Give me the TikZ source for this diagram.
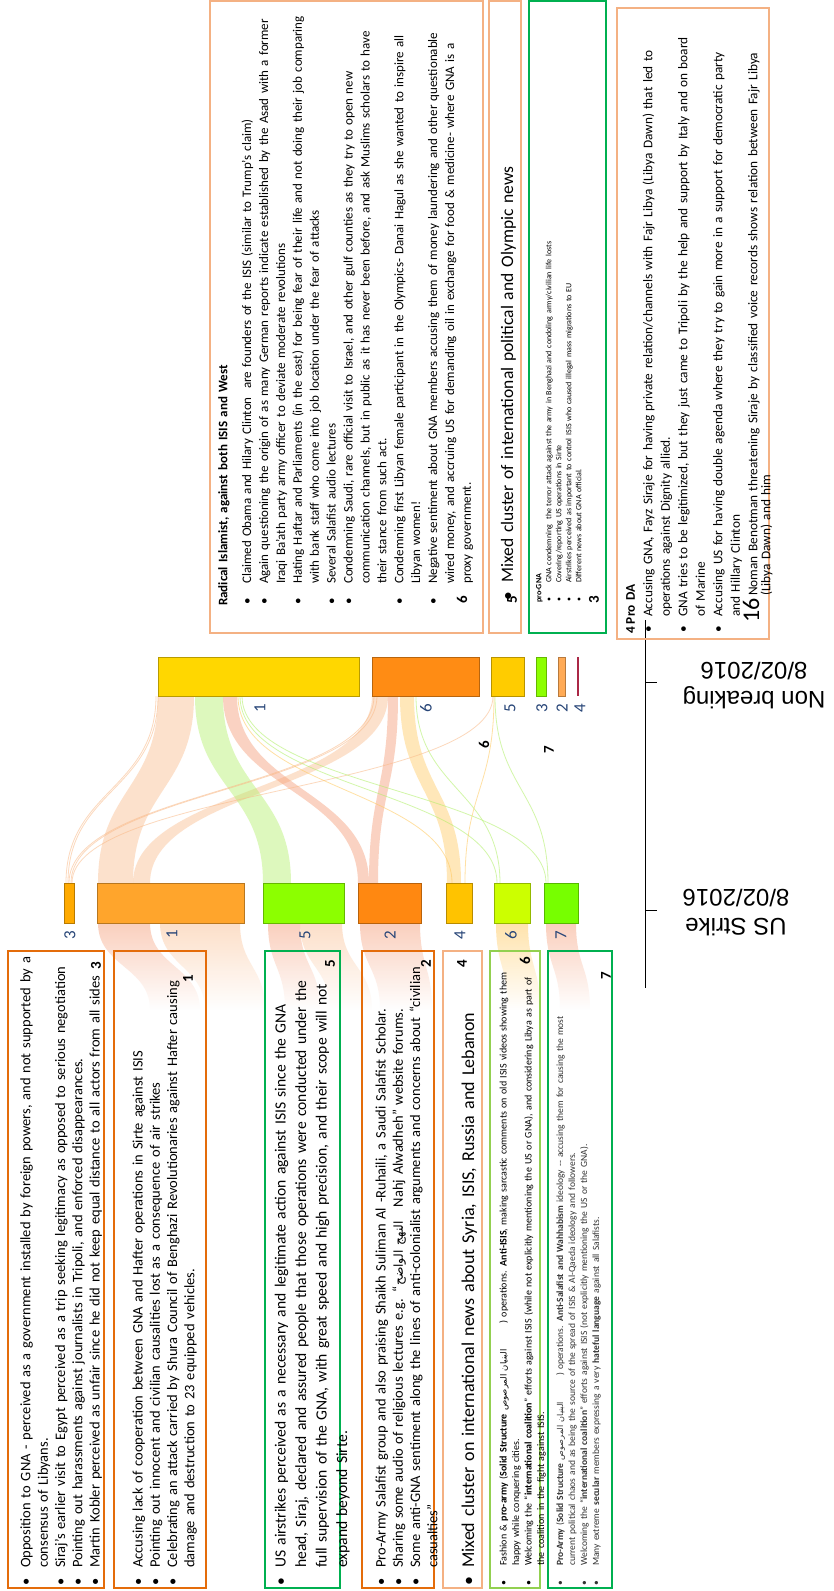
\documentclass[tikz,border=0pt]{standalone}
\usepackage{fontspec}
\setmainfont{Carlito}
\newfontfamily\arabicfont[Script=Arabic,Scale=0.85]{DejaVu Sans}
\newfontfamily\lsans{Liberation Sans}
\TeXXeTstate=1
\usetikzlibrary{fadings}
\newlength\bind
\newlength\boff
\newcommand\bi[1]{\par\hbox{\makebox[\bind][l]{\hspace*{\boff}\textbullet}#1}}
\newcommand\co[1]{\par\hbox{\hspace*{\bind}#1}}
\newcommand\ar[1]{{\arabicfont\beginR #1\endR}}
\newcommand\fs[2]{\fontsize{#1}{#2}\selectfont}
\definecolor{dorange}{RGB}{228,108,10}
\definecolor{lorange}{RGB}{244,177,131}
\definecolor{boxgreen}{RGB}{0,176,80}
\definecolor{lgreen}{RGB}{146,208,80}
\definecolor{labblue}{RGB}{40,70,120}
\definecolor{peach}{RGB}{250,185,135}
\definecolor{salmon}{RGB}{245,150,110}
\definecolor{greenb}{RGB}{175,240,100}
\definecolor{yellowb}{RGB}{255,200,90}
\definecolor{cT1}{RGB}{255,215,0}
\definecolor{cT6}{RGB}{255,140,20}
\definecolor{cT5}{RGB}{255,204,0}
\definecolor{cT3}{RGB}{140,255,0}
\definecolor{cT2}{RGB}{255,170,85}
\definecolor{cT4}{RGB}{170,40,70}
\definecolor{cB3}{RGB}{255,170,0}
\definecolor{cB1}{RGB}{255,165,44}
\definecolor{cB5}{RGB}{140,255,0}
\definecolor{cB2}{RGB}{255,136,17}
\definecolor{cB4}{RGB}{255,195,0}
\definecolor{cB6}{RGB}{204,255,0}
\definecolor{cB7}{RGB}{119,255,0}
\newcommand\sbar[6]{\node[draw=#6!72!black, fill=#6, line width=0.7pt, inner sep=0pt, anchor=north west, minimum width={(#3-#2)*1pt}, minimum height={(#5-#4)*1pt}] (#1) at (#2,#4) {};}
\newcommand\band[7]{\fill[#7] (#1,#5) .. controls (#1,{(#5+#6)/2}) and (#3,{(#5+#6)/2}) .. (#3,#6) -- (#4,#6) .. controls (#4,{(#5+#6)/2}) and (#2,{(#5+#6)/2}) .. (#2,#5) -- cycle;}
\newcommand\thinl[3]{\draw[#3, line width=0.8pt, draw opacity=0.55] (#1,696) .. controls (#1,790) and (#2,790) .. (#2,883);}
\tikzset{
  box/.style={line width=1.4pt},
  txt/.style={rotate=90, anchor=north west, inner sep=0pt, align=left, text width=650pt},
  num/.style={rotate=90, inner sep=0pt, font=\fs{15}{15}\bfseries},
  lab/.style={rotate=90, inner sep=0pt, text=labblue, font=\fs{17}{17}},
  bandop/.style={fill opacity=0.42},
  fadeband/.style={fill opacity=0.45, path fading=south},
}
\begin{document}
\begin{tikzpicture}[x=1pt,y=-1pt]
\useasboundingbox (0,0) rectangle (833,1591);
\fill[white] (0,0) rectangle (833,1591);
% ---------- flows ----------
\band{158}{194}{98}{133}{696}{883}{peach,bandop}
\band{372}{388}{133}{150}{696}{883}{peach,bandop}
\band{195}{223}{263}{291}{696}{883}{greenb,bandop}
\band{223}{237}{358}{369}{696}{883}{salmon,bandop}
\band{388}{398}{369}{378}{696}{883}{salmon,bandop}
\band{400}{414}{447}{461}{696}{883}{yellowb,bandop}
\thinl{156}{66}{peach}
\thinl{158}{68}{peach}
\thinl{374}{69}{peach}
\thinl{377}{71}{peach}
\thinl{493}{72}{peach}
\thinl{238}{452}{yellowb}
\thinl{240}{497}{greenb}
\thinl{242}{546}{greenb}
\thinl{416}{500}{greenb}
\thinl{495}{548}{greenb}
\thinl{494}{465}{yellowb}
% fading flows below the lower bars
\band{98}{150}{150}{200}{923}{1010}{salmon,fadeband}
\band{160}{240}{205}{265}{923}{1010}{peach,fadeband}
\band{268}{300}{285}{320}{923}{1010}{salmon,fadeband}
\band{300}{342}{330}{372}{923}{1010}{peach,fadeband}
\band{360}{420}{380}{432}{923}{1010}{salmon,fadeband}
\band{496}{528}{508}{540}{923}{1010}{yellowb,fill opacity=0.5,path fading=south}
\band{546}{576}{560}{590}{923}{1010}{salmon,fadeband}
% ---------- bars ----------
\sbar{T1}{158}{359}{657}{696}{cT1}
\sbar{T6}{372}{479}{657}{696}{cT6}
\sbar{T5}{491}{524}{657}{696}{cT5}
\sbar{T3}{536}{546}{657}{696}{cT3}
\sbar{T2}{558}{565}{657}{696}{cT2}
\fill[cT4] (577,657) rectangle (578.5,696);
\sbar{B3}{64}{74}{883}{923}{cB3}
\sbar{B1}{97}{244}{883}{923}{cB1}
\sbar{B5}{263}{344}{883}{923}{cB5}
\sbar{B2}{358}{421}{883}{923}{cB2}
\sbar{B4}{446}{472}{883}{923}{cB4}
\sbar{B6}{494}{530}{883}{923}{cB6}
\sbar{B7}{544}{578}{883}{923}{cB7}
% bar labels
\node[lab] (l1) at (260,708) {1};
\node[lab] (l6) at (426,708) {6};
\node[lab] (l5) at (510,708) {5};
\node[lab] (l3) at (542,708) {3};
\node[lab] (l2) at (562,708) {2};
\node[lab] (l4) at (580,708) {4};
\node[lab] (m3) at (70,935) {3};
\node[lab] (m1) at (172,934) {1};
\node[lab] (m5) at (305,935) {5};
\node[lab] (m2) at (390,935) {2};
\node[lab] (m4) at (460,935) {4};
\node[lab] (m6) at (511,935) {6};
\node[lab] (m7) at (561,935) {7};
\node[num] (x6) at (484,745) {6};
\node[num] (x7) at (549,750) {7};
% ---------- timeline ----------
\coordinate (tl0) at (645,620);
\coordinate (tl1) at (645,988);
\coordinate (tk1) at (645,682);
\coordinate (tk1e) at (657,682);
\coordinate (tk2) at (645,910);
\coordinate (tk2e) at (657,910);
\draw[line width=1pt] (tl0) -- (tl1);
\draw[line width=1pt] (tk1) -- (tk1e);
\draw[line width=1pt] (tk2) -- (tk2e);
\node[rotate=180, align=center, inner sep=0pt, font=\lsans\fs{24}{29}] (nb) at (754,686) {Non breaking\\8/02/2016};
\node[rotate=180, align=center, inner sep=0pt, font=\lsans\fs{24}{29}] (us) at (736,913) {US Strike\\8/02/2016};
% ---------- lower boxes ----------
\draw[box, dorange] (8,951) rectangle (104,1588);
\draw[box, dorange] (114,951) rectangle (206,1588);
\draw[box, boxgreen] (265,951) rectangle (340,1588);
\draw[box, dorange] (362,951) rectangle (434,1588);
\draw[box, lorange] (443,951) rectangle (482,1588);
\draw[box, lgreen] (490,951) rectangle (540,1588);
\draw[box, boxgreen] (548,951) rectangle (612,1588);
\node[txt, font=\fs{14.5}{17.3}] (t3) at (13,1588) {\setlength\bind{20pt}\setlength\boff{2pt}%
\bi{Opposition to GNA - perceived as a government installed by foreign powers, and not supported by a}
\co{consensus of Libyans.}
\bi{Siraj’s earlier visit to Egypt perceived as a trip seeking legitimacy as opposed to serious negotiation}
\bi{Pointing out harassments against journalists in Tripoli, and enforced disappearances.}
\bi{Martin Kobler perceived as unfair since he did not keep equal distance to all actors from all sides}};
\node[txt, font=\fs{14.5}{17.3}] (t1) at (125,1588) {\setlength\bind{20pt}\setlength\boff{2pt}%
\bi{Accusing lack of cooperation between GNA and Hafter operations in Sirte against ISIS}
\bi{Pointing out innocent and civilian causalities lost as a consequence of air strikes}
\bi{Celebrating an attack carried by Shura Council of Benghazi Revolutionaries against Hafter causing}
\co{damage and destruction to 23 equipped vehicles.}};
\node[txt, font=\fs{15.6}{20.5}] (t5) at (265,1588) {\setlength\bind{20pt}\setlength\boff{2pt}%
\bi{US airstrikes perceived as a necessary and legitimate action against ISIS since the GNA}
\co{head, Siraj, declared and assured people that those operations were conducted under the}
\co{full supervision of the GNA, with great speed and high precision, and their scope will not}
\co{expand beyond Sirte.}};
\node[txt, font=\fs{14.5}{17.3}] (t2) at (368,1588) {\setlength\bind{20pt}\setlength\boff{2pt}%
\bi{Pro-Army Salafist group and also praising Shaikh Suliman Al -Ruhaili, a Saudi Salafist Scholar.}
\bi{Sharing some audio of religious lectures e.g. ``\ar{النهج الواضح}\hspace{14pt}Nahj Alwadheh'' website forums.}
\bi{Some anti-GNA sentiment along the lines of anti-colonialist arguments and concerns about ``civilian}
\co{casualties''}};
\node[txt, font=\fs{18}{21}] (t4) at (453,1588) {\setlength\bind{20pt}\setlength\boff{2pt}%
\bi{Mixed cluster on international news about Syria, ISIS, Russia and Lebanon}};
\node[txt, font=\fs{10}{12.5}] (t6) at (494,1588) {\setlength\bind{22pt}\setlength\boff{2pt}%
\bi{Fashion \& \textbf{pro-army} (\textbf{Solid Structure} \ar{البنيان المرصوص}\hspace{26pt}) operations. \textbf{Anti-ISIS}, making sarcastic comments on old ISIS videos showing them}
\co{happy while conquering cities.}
\bi{Welcoming the ``\textbf{international coalition}'' efforts against ISIS (while not explicitly mentioning the US or GNA), and considering Libya as part of}
\co{the coalition in the fight against ISIS.}};
\node[txt, text=black!80, font=\fs{9.5}{12}] (t7) at (551,1588) {\setlength\bind{22pt}\setlength\boff{2pt}%
\bi{\textbf{Pro-Army} (\textbf{Solid Structure} \ar{البنيان المرصوص}\hspace{26pt}) operations. \textbf{Anti-Salafist and Wahhabism} ideology -{}- accusing them for causing the most}
\co{current political chaos and as being the source of the spread of ISIS \& Al-Qaeda ideology and followers.}
\bi{Welcoming the ``\textbf{international coalition}'' efforts against ISIS (not explicitly mentioning the US or the GNA).}
\bi{Many extreme \textbf{secular} members expressing a very \textbf{hateful language} against all Salafists.}};
\node[num] (n3) at (96,966) {3};
\node[num] (n1) at (188,979) {1};
\node[num] (n5) at (330,964) {5};
\node[num] (n2) at (426,964) {2};
\node[num] (n4) at (462,964) {4};
\node[num] (n6) at (525,961) {6};
\node[num] (n7) at (606,976) {7};
% ---------- upper boxes ----------
\draw[box, lorange] (210,1) rectangle (483,633);
\draw[box, lorange] (489,1) rectangle (521,633);
\draw[box, boxgreen] (529,1) rectangle (606,633);
\draw[box, lorange] (617,8) rectangle (769,639);
\node[txt, font=\fs{13}{16.9}] (tr) at (218,606) {\setlength\bind{22pt}\setlength\boff{1pt}%
\hbox{\textbf{Radical Islamist, against both ISIS and West}}\vspace{7pt}
\bi{Claimed Obama and Hilary Clinton\ \ are founders of the ISIS (similar to Trump's claim)}
\bi{Again questioning the origin of as many German reports indicate established by the Asad with a former}
\co{Iraqi Ba’ath party army officer to deviate moderate revolutions}
\bi{Hating Haftar and Parliaments (in the east) for being fear of their life and not doing their job comparing}
\co{with bank staff who come into job location under the fear of attacks}
\bi{Several Salafist audio lectures}
\bi{Condemning Saudi, rare official visit to Israel, and other gulf counties as they try to open new}
\co{communication channels, but in public as it has never been before, and ask Muslims scholars to have}
\co{their stance from such act.}
\bi{Condemning first Libyan female participant in the Olympics- Danai Hagul as she wanted to inspire all}
\co{Libyan women!}
\bi{Negative sentiment about GNA members accusing them of money laundering and other questionable}
\co{wired money, and accruing US for demanding oil in exchange for food \& medicine- where GNA is a}
\co{proxy government.}};
\node[txt, font=\fs{17.5}{20}] (tm) at (493,603) {\setlength\bind{20pt}\setlength\boff{2pt}%
\bi{Mixed cluster of international political and Olympic news}};
\node[txt, font=\fs{8}{10}] (tg) at (536,603) {\setlength\bind{20pt}\setlength\boff{1.5pt}%
\hbox{\textbf{pro-GNA}}
\bi{GNA condemning\ \ the terror attack against the army in Benghazi and condoling army/civilian life losts}
\bi{Covering/reporting US operations in Sirte}
\bi{Airstrikes perceived as important to control ISIS who caused illegal mass migrations to EU}
\bi{Different news about GNA official.}};
\node[txt, font=\fs{13.3}{17.5}] (tp) at (626,634) {\setlength\bind{17pt}\setlength\boff{1pt}%
\hbox{\textbf{4\hspace{3pt}Pro DA}}
\bi{Accusing GNA, Fayz Siraje for having private relation/channels with Fajr Libya (Libya Dawn) that led to}
\co{operations against Dignity allied.}
\bi{GNA tries to be legitimized, but they just came to Tripoli by the help and support by Italy and on board}
\co{of Marine}
\bi{Accusing US for having double agenda where they try to gain more in a support for democratic party}
\co{and Hillary Clinton}
\par\hbox{\hspace*{38pt}Noman Benotman threatening Siraje by classified voice records shows relation between Fajr Libya}
\vspace{-4.5pt}
\par\hbox{\hspace*{38pt}(Libya Dawn) and him}};
\node[rotate=90, inner sep=0pt, font=\fs{24}{24}] (p16) at (751,610) {16};
\node[num] (r6) at (462,600) {6};
\node[num] (r5) at (512,600) {5};
\node[num] (r3) at (594,600) {3};
\end{tikzpicture}
\end{document}
